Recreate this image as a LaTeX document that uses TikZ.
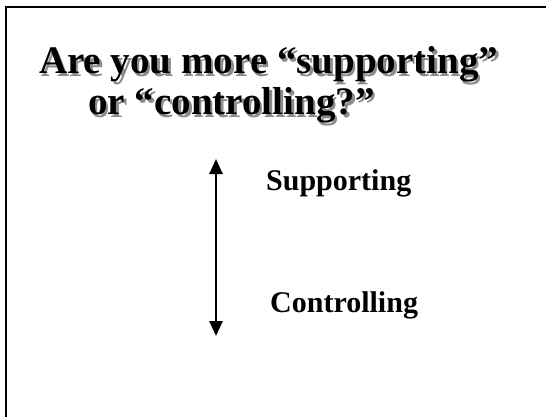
\documentclass[tikz,border=0pt]{standalone}
\usepackage{fontspec}
\setmainfont{Liberation Serif}
\usetikzlibrary{positioning,arrows.meta}

\tikzset{
  titletext/.style={font=\fontsize{39}{44}\selectfont\bfseries, anchor=base west, inner sep=0pt},
  shadowtext/.style={titletext, text=black!45},
  labeltext/.style={font=\fontsize{30}{34}\selectfont\bfseries, anchor=base west, inner sep=0pt},
  scalearrow/.style={line width=2.5pt, {Triangle[length=15pt,width=13pt]}-{Triangle[length=15pt,width=13pt]}}
}

\begin{document}
\begin{tikzpicture}[x=1pt,y=-1pt]
  \useasboundingbox (0,0) rectangle (546,417);
  % frame
  \draw[line width=2pt] (6,417) -- (6,7) -- (546,7);
  % title, shadow first
  \node[shadowtext] (title1s) at (41.5,76.5) {Are you more “supporting”};
  \node[shadowtext] (title2s) at (90.5,117.5) {or “controlling?”};
  \node[titletext] (title1) at (39,74) {Are you more “supporting”};
  \node[titletext] (title2) at (88,115) {or “controlling?”};
  % scale
  \coordinate (top) at (216,159);
  \coordinate (bot) at (216,336);
  \draw[scalearrow] (top) -- (bot);
  \node[labeltext] (sup) at (266,190) {Supporting};
  \node[labeltext] (con) at (270,312) {Controlling};
\end{tikzpicture}
\end{document}
